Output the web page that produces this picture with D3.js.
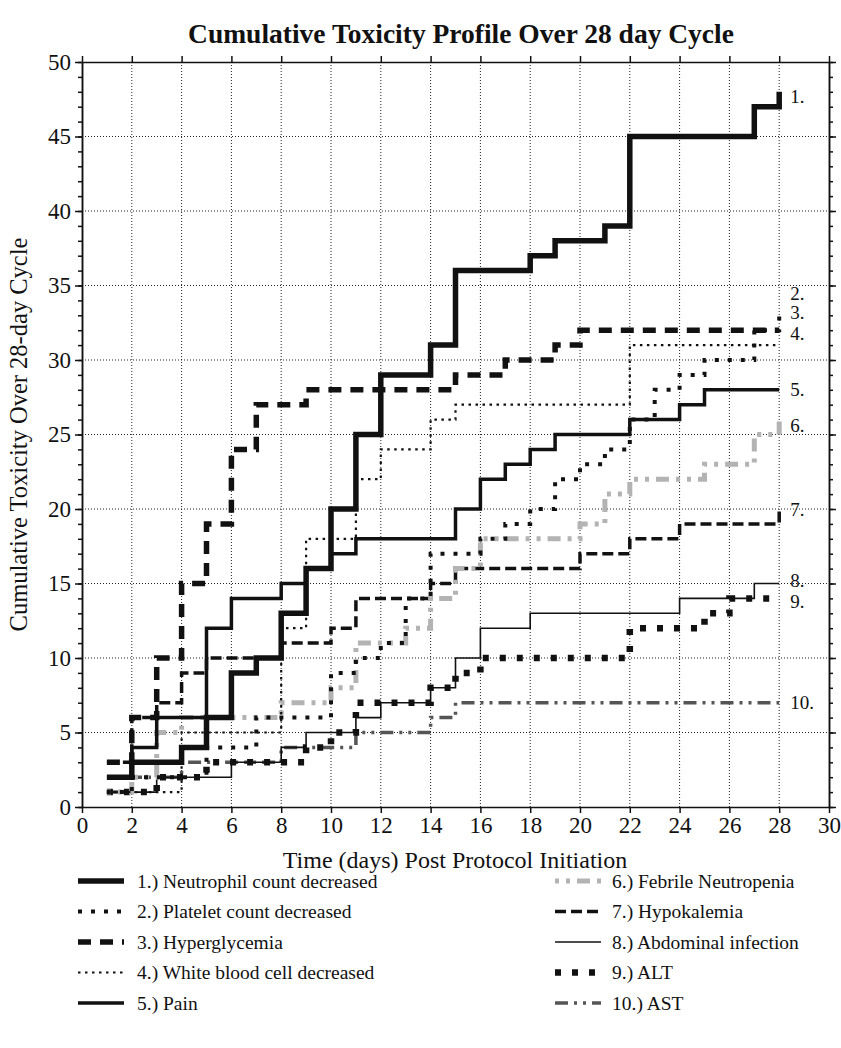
<!DOCTYPE html>
<html>
<head>
<meta charset="utf-8">
<script src="https://cdn.jsdelivr.net/npm/d3@7"></script>
<style>
  body { margin: 0; background: #fff; }
  text { font-family: "Liberation Serif", "Times New Roman", serif; fill: #111; }
</style>
</head>
<body>
<div id="chart"></div>
<script>
// days of the 28 day cycle
const days = [1, 2, 3, 4, 5, 6, 7, 8, 9, 10, 11, 12, 13, 14, 15, 16, 17, 18, 19, 20, 21, 22, 23, 24, 25, 26, 27, 28];

// cumulative counts per day
const neutrophil    = [2, 3, 3, 4, 6, 9, 10, 13, 16, 20, 25, 29, 29, 31, 36, 36, 36, 37, 38, 38, 39, 45, 45, 45, 45, 45, 47, 48];
const platelet      = [1, 2, 2, 2, 4, 4, 6, 6, 6, 9, 10, 11, 14, 17, 17, 18, 19, 20, 22, 23, 24, 26, 28, 29, 30, 30, 32, 33];
const hyperglycemia = [3, 6, 10, 15, 19, 24, 27, 27, 28, 28, 28, 28, 28, 28, 29, 29, 30, 30, 31, 32, 32, 32, 32, 32, 32, 32, 32, 32];
const wbc           = [1, 1, 1, 5, 5, 5, 5, 12, 18, 18, 22, 24, 24, 26, 27, 27, 27, 27, 27, 27, 27, 31, 31, 31, 31, 31, 31, 31];
const pain          = [2, 4, 6, 6, 12, 14, 14, 15, 16, 17, 18, 18, 18, 18, 20, 22, 23, 24, 25, 25, 25, 26, 26, 27, 28, 28, 28, 28];
const febrile       = [1, 2, 5, 6, 6, 6, 6, 7, 7, 8, 11, 11, 12, 14, 16, 18, 18, 18, 18, 19, 21, 22, 22, 22, 23, 23, 25, 26];
const hypokalemia   = [3, 6, 7, 9, 10, 10, 10, 11, 11, 12, 14, 14, 14, 15, 16, 16, 16, 16, 16, 17, 17, 18, 18, 19, 19, 19, 19, 20];
const abdominal     = [1, 1, 2, 2, 2, 3, 3, 4, 5, 5, 6, 7, 7, 8, 10, 12, 12, 13, 13, 13, 13, 13, 13, 14, 14, 14, 15, 15];
const alt           = [1, 1, 2, 2, 3, 3, 3, 3, 4, 5, 7, 7, 7, 8, 9, 10, 10, 10, 10, 10, 10, 12, 12, 12, 13, 14, 14, 14];
const ast           = [1, 2, 2, 3, 3, 3, 3, 4, 4, 4, 5, 5, 5, 6, 7, 7, 7, 7, 7, 7, 7, 7, 7, 7, 7, 7, 7, 7];

const seriesNames = [
  "1.) Neutrophil count decreased",
  "2.) Platelet count decreased",
  "3.) Hyperglycemia",
  "4.) White blood cell decreased",
  "5.) Pain",
  "6.) Febrile Neutropenia",
  "7.) Hypokalemia",
  "8.) Abdominal infection",
  "9.) ALT",
  "10.) AST"
];
const endLabels = ["1.", "2.", "3.", "4.", "5.", "6.", "7.", "8.", "9.", "10."];
const endLabelAt = [47.7, 34.5, 33.2, 31.8, 28, 25.6, 20, 15.2, 13.8, 7];

const xTicks = [0, 2, 4, 6, 8, 10, 12, 14, 16, 18, 20, 22, 24, 26, 28, 30];
const yTicks = [0, 5, 10, 15, 20, 25, 30, 35, 40, 45, 50];

const allValues = [neutrophil, platelet, hyperglycemia, wbc, pain, febrile, hypokalemia, abdominal, alt, ast];

// line looks, same order as the series
const looks = [
  { color: "#111", width: 5.5, dash: null },
  { color: "#111", width: 4, dash: "4,9" },
  { color: "#111", width: 5.5, dash: "13,9" },
  { color: "#111", width: 2.2, dash: "2.5,4.5" },
  { color: "#111", width: 3.5, dash: null },
  { color: "#b3b3b3", width: 5, dash: "4,7,4,7,13,7" },
  { color: "#111", width: 3.5, dash: "11,5" },
  { color: "#111", width: 1.6, dash: null },
  { color: "#111", width: 6.5, dash: "6,11" },
  { color: "#555", width: 3.5, dash: "13,6,3,6,3,6" }
];

const series = allValues.map((vals, i) => ({
  name: seriesNames[i],
  label: endLabels[i],
  labelAt: endLabelAt[i],
  look: looks[i],
  points: days.map((d, j) => ({ day: d, value: vals[j] }))
}));

const W = 841, H = 1048;
const plotLeft = 82, plotRight = 829, plotTop = 62, plotBottom = 807;
const serif = "'Liberation Serif', 'Times New Roman', serif";

const svg = d3.select("#chart").append("svg")
  .attr("width", W).attr("height", H)
  .style("background", "#fff");

const x = d3.scaleLinear().domain([0, 30]).range([plotLeft, plotRight]);
const y = d3.scaleLinear().domain([0, 50]).range([plotBottom, plotTop]);

// title
svg.append("text")
  .attr("x", 461).attr("y", 43)
  .attr("text-anchor", "middle")
  .style("font-size", "27.5px").style("font-weight", "bold")
  .text("Cumulative Toxicity Profile Over 28 day Cycle");

// dotted grid
const grid = svg.append("g").attr("stroke", "#222").attr("stroke-width", 1).attr("stroke-dasharray", "1,2");
grid.selectAll("line.v").data(xTicks.slice(1, -1)).enter().append("line").attr("class", "v")
  .attr("x1", d => x(d)).attr("x2", d => x(d)).attr("y1", plotTop).attr("y2", plotBottom);
grid.selectAll("line.h").data(yTicks.slice(1, -1)).enter().append("line").attr("class", "h")
  .attr("y1", d => y(d)).attr("y2", d => y(d)).attr("x1", plotLeft).attr("x2", plotRight);

// series, drawn last-first so the neutrophil line sits on top
const line = d3.line().curve(d3.curveStepAfter).x(d => x(d.day)).y(d => y(d.value));
const plot = svg.append("g");
plot.selectAll("path").data(series.slice().reverse()).enter().append("path")
  .attr("d", d => line(d.points))
  .attr("fill", "none")
  .attr("stroke", d => d.look.color)
  .attr("stroke-width", d => d.look.width)
  .attr("stroke-dasharray", d => d.look.dash);

// end labels
svg.append("g").selectAll("text").data(series).enter().append("text")
  .attr("x", x(28) + 11).attr("y", d => y(d.labelAt))
  .attr("dy", "0.35em")
  .style("font-size", "19px")
  .text(d => d.label);

// axes
const minor = d3.range(0, 51);
function styleAxis(g) {
  g.attr("font-family", null);
  g.selectAll(".domain").attr("stroke", "#111").attr("stroke-width", 1.5);
  g.selectAll(".tick line").attr("stroke", "#111").attr("stroke-width", 1.5);
  g.selectAll(".tick text").style("font-family", serif).style("font-size", "23px").attr("fill", "#111");
}
svg.append("g").attr("transform", `translate(0,${plotBottom})`)
  .call(d3.axisBottom(x).tickValues(xTicks).tickSize(6).tickSizeOuter(0).tickPadding(4))
  .call(styleAxis);
svg.append("g").attr("transform", `translate(0,${plotTop})`)
  .call(d3.axisTop(x).tickValues(xTicks).tickSize(6).tickSizeOuter(0).tickFormat(""))
  .call(styleAxis);
svg.append("g").attr("transform", `translate(${plotLeft},0)`)
  .call(d3.axisLeft(y).tickValues(minor).tickSize(4).tickSizeOuter(0).tickFormat(""))
  .call(styleAxis);
svg.append("g").attr("transform", `translate(${plotLeft},0)`)
  .call(d3.axisLeft(y).tickValues(yTicks).tickSize(7).tickSizeOuter(0).tickPadding(4))
  .call(styleAxis);
svg.append("g").attr("transform", `translate(${plotRight},0)`)
  .call(d3.axisRight(y).tickValues(minor).tickSize(4).tickSizeOuter(0).tickFormat(""))
  .call(styleAxis);
svg.append("g").attr("transform", `translate(${plotRight},0)`)
  .call(d3.axisRight(y).tickValues(yTicks).tickSize(7).tickSizeOuter(0).tickFormat(""))
  .call(styleAxis);

// axis titles
svg.append("text")
  .attr("x", 455).attr("y", 868)
  .attr("text-anchor", "middle")
  .style("font-size", "24px")
  .text("Time (days) Post Protocol Initiation");
svg.append("text")
  .attr("transform", `translate(27,${(plotTop + plotBottom) / 2}) rotate(-90)`)
  .attr("text-anchor", "middle")
  .style("font-size", "24.5px")
  .text("Cumulative Toxicity Over 28-day Cycle");

// legend, two columns of five
const legend = svg.append("g").selectAll("g").data(series).enter().append("g")
  .attr("transform", (d, i) => {
    const col = i < 5 ? 0 : 1;
    const row = i % 5;
    return `translate(${col ? 555 : 78},${881 + row * 30.5})`;
  });
legend.append("line")
  .attr("x1", 0).attr("x2", 46).attr("y1", 0).attr("y2", 0)
  .attr("stroke", d => d.look.color)
  .attr("stroke-width", d => d.look.width)
  .attr("stroke-dasharray", d => d.look.dash);
legend.append("text")
  .attr("x", (d, i) => i < 5 ? 59 : 57).attr("y", 0).attr("dy", "0.35em")
  .style("font-size", "19.5px")
  .text(d => d.name);
</script>
</body>
</html>
